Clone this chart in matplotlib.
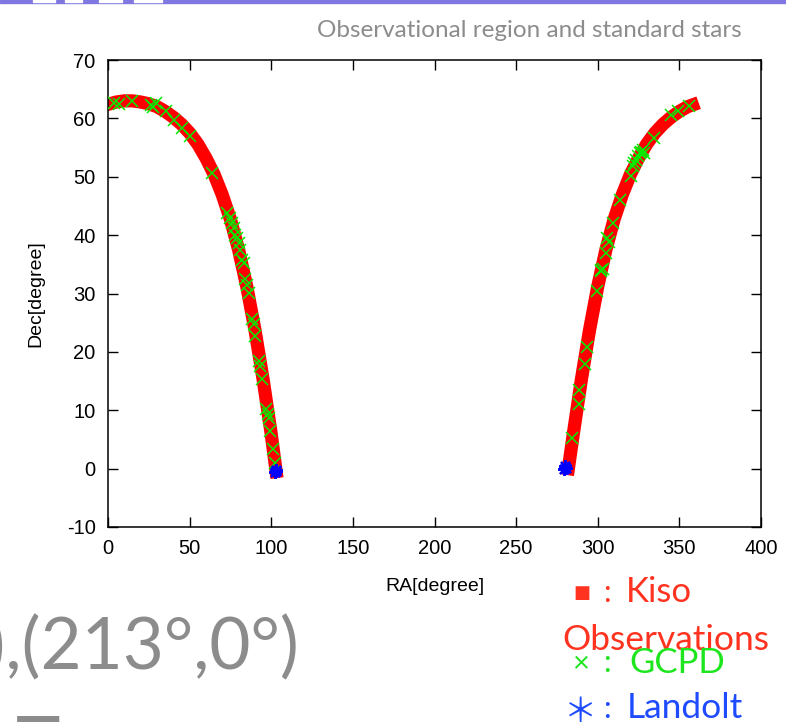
import matplotlib
matplotlib.use("Agg")
import matplotlib.pyplot as plt
from matplotlib.patches import Rectangle

plt.rcParams["axes.unicode_minus"] = False

# Kiso observation strip (two branches of the band)
kiso_ra_west = [0, 5, 10, 15, 20, 25, 30, 35, 40, 45, 50, 55, 60, 65, 70, 75,
                80, 85, 90, 95, 100, 103]
kiso_dec_west = [62.4, 62.8, 63.0, 63.0, 62.8, 62.5, 62.0, 61.2, 60.2, 59.0,
                 57.5, 55.6, 53.2, 50.4, 46.9, 42.7, 37.5, 31.2, 23.8, 15.3,
                 5.9, -0.5]
kiso_ra_east = [282, 285, 290, 295, 300, 305, 310, 315, 320, 325, 330, 335,
                340, 345, 350, 355, 358]
kiso_dec_east = [0.0, 5.9, 15.3, 23.8, 31.2, 37.5, 42.7, 46.9, 50.4, 53.2,
                 55.6, 57.5, 59.0, 60.2, 61.2, 62.0, 62.3]

# GCPD standard stars
gcpd_ra = [3.7, 6.7, 14.9, 26.1, 27.5, 29.2, 35.3, 40.3, 45.4, 50.5, 63.8,
           72.9, 75.0, 76.0, 77.0, 78.0, 79.0, 80.0, 81.1, 82.1, 83.1, 84.2,
           84.9, 86.2, 88.2, 89.2, 90.3, 92.3, 93.3, 94.3, 96.8, 98.0, 98.4,
           99.4, 100.9, 102.1,
           284.4, 288.5, 288.3, 292.0, 293.4, 299.5, 301.7, 302.1, 303.2,
           305.2, 305.8, 306.7, 309.3, 313.4, 320.5, 321.5, 322.5, 323.5,
           324.6, 325.6, 326.6, 327.6, 328.6, 334.4, 345.0, 349.0, 356.2]
gcpd_dec = [62.6, 62.5, 62.9, 62.3, 62.0, 62.6, 61.2, 59.7, 58.3, 57.0, 50.6,
            43.8, 42.9, 42.1, 41.2, 40.1, 39.5, 38.7, 37.5, 35.8, 35.2, 32.4,
            31.5, 30.1, 25.6, 24.7, 22.7, 18.4, 17.6, 15.3, 10.2, 9.3, 8.7,
            6.5, 3.3, 1.0,
            5.3, 11.0, 13.4, 17.9, 20.8, 30.4, 33.8, 34.1, 34.2,
            37.0, 39.5, 38.9, 42.1, 46.1, 50.1, 51.8, 52.3, 52.9,
            53.5, 54.1, 54.3, 54.6, 54.1, 56.7, 60.6, 61.2, 62.1]

# Landolt standard stars
landolt_ra = [102.3, 102.8, 103.0, 279.5, 280.0, 280.4]
landolt_dec = [-0.6, -0.2, -0.4, 0.0, 0.4, 0.1]

W, H = 786, 722
GRAY = "#8c8c8c"
RED = "#ff3320"
GREEN = "#1ee61e"
BLUE = "#1f4bff"


def fx(px):
    return px / W


def fy(py):
    return 1 - py / H


fig = plt.figure(figsize=(W / 100, H / 100), dpi=100)
ax = fig.add_axes([fx(108), fy(527), (761 - 108) / W, (527 - 60) / H])

for ra, dec in [(kiso_ra_west, kiso_dec_west), (kiso_ra_east, kiso_dec_east)]:
    ax.plot(ra, dec, color="#ff0000", lw=9.5, solid_capstyle="projecting",
            solid_joinstyle="round", zorder=2)
ax.plot(gcpd_ra, gcpd_dec, ls="none", marker="x", ms=9, mew=1.1,
        color="#00ee00", zorder=3)
ax.plot(landolt_ra, landolt_dec, ls="none", marker=(8, 2, 0), ms=9, mew=1.6,
        color="#0000ff", zorder=4)

ax.set_xlim(0, 400)
ax.set_ylim(-10, 70)
ax.set_xticks(range(0, 401, 50))
ax.set_yticks(range(-10, 71, 10))
ax.tick_params(direction="in", top=True, right=True, length=7, width=1,
               pad=9, labelsize=14.5)
for lab in ax.get_xticklabels() + ax.get_yticklabels():
    lab.set_family("Liberation Sans")
for sp in ax.spines.values():
    sp.set_linewidth(1.1)
ax.set_xlabel("RA[degree]", fontsize=14, family="Liberation Sans", labelpad=14)
ax.set_ylabel("Dec[degree]", fontsize=14, family="Liberation Sans", labelpad=16)

# slide decorations around the chart
fig.text(fx(529), fy(37), "Observational region and standard stars",
         ha="center", va="baseline", fontsize=17.5, color=GRAY, family="Lato")
fig.text(fx(300), fy(669), "°),(213°,0°)", ha="right", va="baseline",
         fontsize=51, color=GRAY, family="Lato")
fig.text(fx(16), fy(714), "T", ha="left", va="top", fontsize=54,
         color=GRAY, family="Lato")

fig.patches.append(Rectangle((0, fy(3)), 1, 3 / H, transform=fig.transFigure,
                             color="#8078e0", zorder=0))
for x0, x1 in [(33, 55), (65, 82), (99, 122), (134, 162)]:
    fig.patches.append(Rectangle((fx(x0), fy(2)), (x1 - x0) / W, 2 / H,
                                 transform=fig.transFigure, color="white",
                                 zorder=1))

sym = ["Lato", "DejaVu Sans", "Noto Sans CJK JP"]
fig.text(fx(573), fy(598), "■", ha="left", va="baseline", fontsize=13,
         color=RED, family=sym)
fig.text(fx(603), fy(602), ":", ha="left", va="baseline", fontsize=22,
         color=RED, family=sym)
fig.text(fx(626), fy(602), "Kiso", ha="left", va="baseline", fontsize=25,
         color=RED, family="Lato")
fig.text(fx(562), fy(650), "Observations", ha="left", va="baseline",
         fontsize=25.5, color=RED, family="Lato")
fig.text(fx(572), fy(672), "×", ha="left", va="baseline", fontsize=21,
         color=GREEN, family=sym)
fig.text(fx(603), fy(672), ":", ha="left", va="baseline", fontsize=22,
         color=GREEN, family=sym)
fig.text(fx(629), fy(673), "GCPD", ha="left", va="baseline", fontsize=25,
         color=GREEN, family="Lato")
fig.text(fx(564), fy(722), "＊", ha="left", va="baseline", fontsize=24,
         color=BLUE, family=["Noto Sans CJK JP"])
fig.text(fx(603), fy(718), ":", ha="left", va="baseline", fontsize=22,
         color=BLUE, family=sym)
fig.text(fx(627), fy(718), "Landolt", ha="left", va="baseline", fontsize=25.5,
         color=BLUE, family="Lato")

fig.savefig("out.png", dpi=100)
